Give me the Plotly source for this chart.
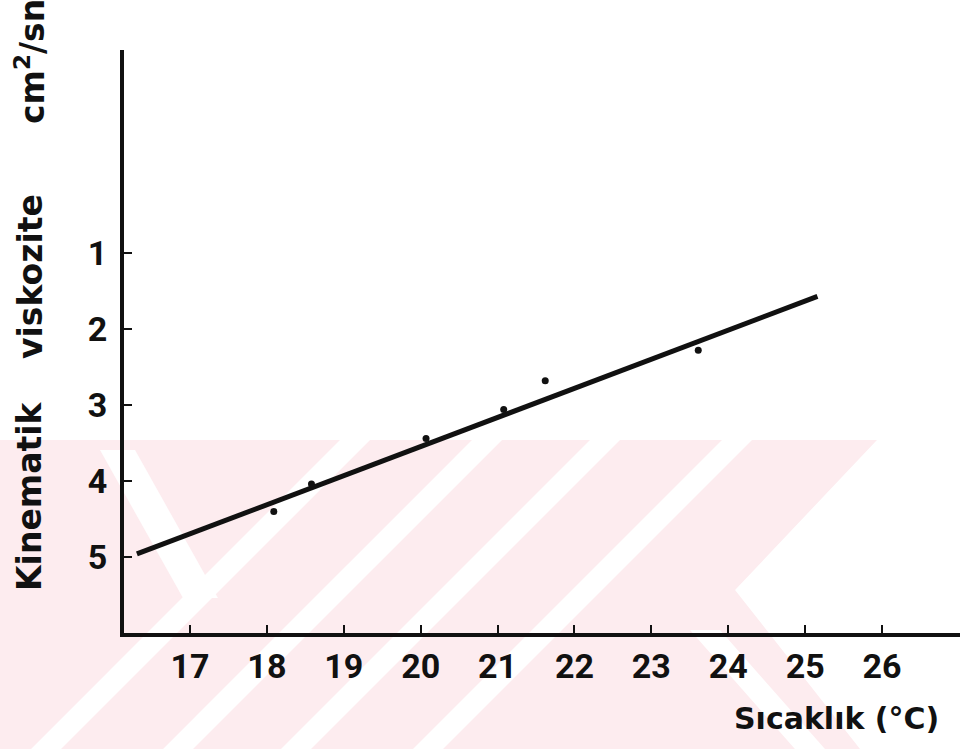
import plotly.graph_objects as go

# ---- data ----
temps = [18.09, 18.58, 20.07, 21.08, 21.62, 23.61]          # °C
viscosity = [4.40, 4.04, 3.44, 3.06, 2.68, 2.28]             # cm²/sn
fit_x = [16.31, 25.16]
fit_y = [4.96, 1.57]
x_ticks = [17, 18, 19, 20, 21, 22, 23, 24, 25, 26]
y_ticks = [1, 2, 3, 4, 5]

W, H = 960, 749
L, R, T, B = 124, 0, 50, 116

TICKFONT = dict(family="Roboto, Liberation Sans, sans-serif", size=34, color="#111111", weight="bold")
TITLEFONT = dict(family="DejaVu Sans, Liberation Sans, sans-serif", size=33, color="#111111", weight="bold")
XTITLEFONT = dict(family="DejaVu Sans, Liberation Sans, sans-serif", size=30, color="#111111", weight="bold")


def fx(x):
    """reference-picture pixel x -> paper coordinate"""
    return (x - L) / (W - L - R)


def fy(y):
    """reference-picture pixel y -> paper coordinate"""
    return (H - B - y) / (H - T - B)


def poly(pts):
    return "M " + " L ".join(f"{fx(a):.4f},{fy(b):.4f}" for a, b in pts) + " Z"


fig = go.Figure()

fig.add_trace(go.Scatter(x=fit_x, y=fit_y, mode="lines",
                         line=dict(color="#111111", width=5), showlegend=False))
fig.add_trace(go.Scatter(x=temps, y=viscosity, mode="markers",
                         marker=dict(color="#111111", size=7), showlegend=False))

# faint watermark in the background (decoration only)
pink = "#fdecef"
shapes = [dict(type="path", path=poly([(0, 440), (877, 440), (735, 590), (860, 749), (0, 749)]),
               xref="paper", yref="paper", fillcolor=pink, line=dict(width=0), layer="below")]
for cx in [355, 487, 605, 737]:
    shapes.append(dict(type="path",
                       path=poly([(cx - 15, 440), (cx + 15, 440), (cx + 15 - 309, 749), (cx - 15 - 309, 749)]),
                       xref="paper", yref="paper", fillcolor="white", line=dict(width=0), layer="below"))
shapes.append(dict(type="path", path=poly([(100, 450), (135, 450), (218, 598), (183, 598)]),
                   xref="paper", yref="paper", fillcolor="white", line=dict(width=0), layer="below"))
shapes.append(dict(type="path", path=poly([(690, 630), (720, 630), (825, 749), (795, 749)]),
                   xref="paper", yref="paper", fillcolor="white", line=dict(width=0), layer="below"))

fig.update_layout(
    width=W, height=H,
    margin=dict(l=L, r=R, t=T, b=B),
    paper_bgcolor="white", plot_bgcolor="rgba(0,0,0,0)",
    shapes=shapes,
    xaxis=dict(range=[16.142, 27.014], tickvals=x_ticks, ticks="inside", ticklen=8, tickwidth=2,
               tickcolor="#111111", showline=True, linecolor="#111111", linewidth=4,
               showgrid=False, zeroline=False, tickfont=TICKFONT, ticklabelstandoff=0),
    yaxis=dict(range=[6.0, -1.671], tickvals=y_ticks, ticks="inside", ticklen=8, tickwidth=2,
               tickcolor="#111111", showline=True, linecolor="#111111", linewidth=4,
               showgrid=False, zeroline=False, tickfont=TICKFONT, ticklabelstandoff=6),
    annotations=[
        dict(text="Kinematik", x=fx(30), y=fy(497), xref="paper", yref="paper", showarrow=False,
             textangle=-90, font=TITLEFONT, xanchor="center", yanchor="middle"),
        dict(text="viskozite", x=fx(30), y=fy(277), xref="paper", yref="paper", showarrow=False,
             textangle=-90, font=TITLEFONT, xanchor="center", yanchor="middle"),
        dict(text="cm<sup>2</sup>/sn", x=fx(30), y=fy(62), xref="paper", yref="paper", showarrow=False,
             textangle=-90, font=TITLEFONT, xanchor="center", yanchor="middle"),
        dict(text="Sıcaklık (°C)", x=fx(836), y=fy(718), xref="paper", yref="paper", showarrow=False,
             font=XTITLEFONT, xanchor="center", yanchor="middle"),
    ],
)

fig.write_html("out.html", config={"displayModeBar": False},
               post_script="document.body.style.margin='0px';document.body.style.overflow='hidden';")
